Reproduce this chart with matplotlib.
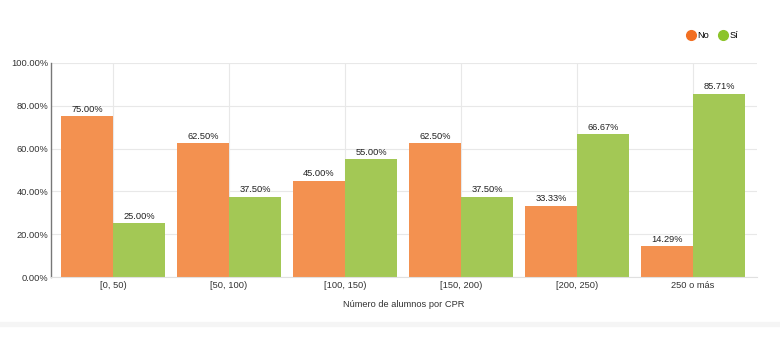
import matplotlib.pyplot as plt
from matplotlib.patches import Rectangle
from matplotlib.lines import Line2D

plt.rcParams['font.family'] = ['Liberation Sans', 'DejaVu Sans']

categorias = ['[0, 50)', '[50, 100)', '[100, 150)', '[150, 200)', '[200, 250)', '250 o más']
no = [75.00, 62.50, 45.00, 62.50, 33.33, 14.29]
si = [25.00, 37.50, 55.00, 37.50, 66.67, 85.71]
ticks_y = [0, 20, 40, 60, 80, 100]

fs = 6.7

fig = plt.figure(figsize=(7.8, 3.49), dpi=100)
ax = fig.add_axes([0.0654, 0.2063, 0.9051, 0.6132])

ancho = 0.45
x = list(range(len(categorias)))
b1 = ax.bar([i - ancho / 2 for i in x], no, ancho, color='#f39150', zorder=2)
b2 = ax.bar([i + ancho / 2 for i in x], si, ancho, color='#a3c855', zorder=2)

for barras, vals in ((b1, no), (b2, si)):
    for b, v in zip(barras, vals):
        ax.text(b.get_x() + b.get_width() / 2, v + 1.2, '%.2f%%' % v,
                ha='center', va='bottom', fontsize=fs, color='#222222')

ax.set_xlim(-0.534, 5.55)
ax.set_ylim(0, 100)
ax.set_yticks(ticks_y)
ax.set_yticklabels(['%.2f%%' % t for t in ticks_y])
ax.set_xticks(x)
ax.set_xticklabels(categorias)
ax.tick_params(axis='both', length=0, labelsize=fs, colors='#333333')
ax.tick_params(axis='x', pad=3)
ax.tick_params(axis='y', pad=2)
ax.grid(True, color='#e8e8e8', linewidth=0.8, zorder=0)

for lado in ('top', 'right'):
    ax.spines[lado].set_visible(False)
ax.spines['left'].set_color('#777777')
ax.spines['left'].set_linewidth(1.0)
ax.spines['bottom'].set_color('#e0e0e0')
ax.spines['bottom'].set_linewidth(0.8)

ax.set_xlabel('Número de alumnos por CPR', fontsize=fs, color='#333333', labelpad=7)

# leyenda arriba a la derecha
fig.legend(handles=[
    Line2D([], [], marker='o', linestyle='', markersize=7, color='#f26f22', label='No'),
    Line2D([], [], marker='o', linestyle='', markersize=7, color='#8cc42a', label='Sí'),
], loc='center right', bbox_to_anchor=(0.951, 0.897), ncol=2, frameon=False,
    fontsize=fs, handlelength=0.8, handletextpad=0.3, columnspacing=1.1, borderaxespad=0)

# franja gris inferior
fig.patches.append(Rectangle((0, 1 - 326 / 349), 1, 4 / 349, transform=fig.transFigure,
                             color='#f5f5f5', zorder=0))

fig.savefig('out.png', dpi=100)
